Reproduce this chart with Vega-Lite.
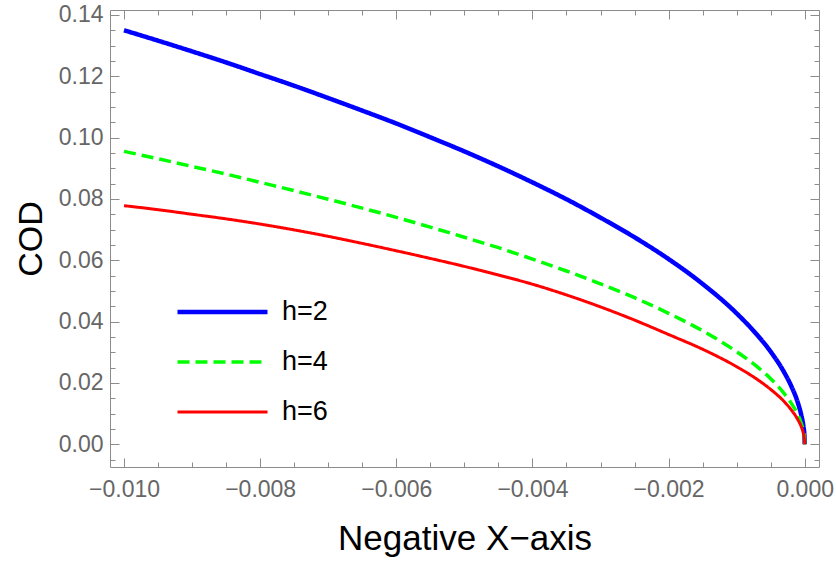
{
  "$schema": "https://vega.github.io/schema/vega-lite/v6.json",
  "width": 709,
  "height": 457,
  "autosize": {"type": "none"},
  "padding": {"left": 110, "top": 10, "right": 17, "bottom": 100},
  "background": "white",
  "config": {
    "view": {"stroke": "#8c8c8c", "strokeWidth": 1},
    "font": "Liberation Sans"
  },
  "data": {
    "values": [
      {"x": -0.01, "cod": 0.1350, "h": "h=2"},
      {"x": -0.0095, "cod": 0.1316, "h": "h=2"},
      {"x": -0.009, "cod": 0.1281, "h": "h=2"},
      {"x": -0.0085, "cod": 0.1245, "h": "h=2"},
      {"x": -0.008, "cod": 0.1207, "h": "h=2"},
      {"x": -0.0075, "cod": 0.1169, "h": "h=2"},
      {"x": -0.007, "cod": 0.1129, "h": "h=2"},
      {"x": -0.0065, "cod": 0.1088, "h": "h=2"},
      {"x": -0.006, "cod": 0.1046, "h": "h=2"},
      {"x": -0.0055, "cod": 0.1001, "h": "h=2"},
      {"x": -0.005, "cod": 0.0955, "h": "h=2"},
      {"x": -0.0045, "cod": 0.0906, "h": "h=2"},
      {"x": -0.004, "cod": 0.0854, "h": "h=2"},
      {"x": -0.0035, "cod": 0.0799, "h": "h=2"},
      {"x": -0.003, "cod": 0.0739, "h": "h=2"},
      {"x": -0.0025, "cod": 0.0675, "h": "h=2"},
      {"x": -0.002, "cod": 0.0604, "h": "h=2"},
      {"x": -0.0015, "cod": 0.0523, "h": "h=2"},
      {"x": -0.001, "cod": 0.0427, "h": "h=2"},
      {"x": -0.0007, "cod": 0.0357, "h": "h=2"},
      {"x": -0.0005, "cod": 0.0302, "h": "h=2"},
      {"x": -0.0003, "cod": 0.0234, "h": "h=2"},
      {"x": -0.0002, "cod": 0.0191, "h": "h=2"},
      {"x": -0.0001, "cod": 0.0135, "h": "h=2"},
      {"x": -0.00005, "cod": 0.0095, "h": "h=2"},
      {"x": -0.00002, "cod": 0.0060, "h": "h=2"},
      {"x": -0.000005, "cod": 0.0030, "h": "h=2"},
      {"x": 0, "cod": 0, "h": "h=2"},
      {"x": -0.01, "cod": 0.0955, "h": "h=4"},
      {"x": -0.0095, "cod": 0.0931, "h": "h=4"},
      {"x": -0.009, "cod": 0.0906, "h": "h=4"},
      {"x": -0.0085, "cod": 0.0881, "h": "h=4"},
      {"x": -0.008, "cod": 0.0854, "h": "h=4"},
      {"x": -0.0075, "cod": 0.0827, "h": "h=4"},
      {"x": -0.007, "cod": 0.0799, "h": "h=4"},
      {"x": -0.0065, "cod": 0.0770, "h": "h=4"},
      {"x": -0.006, "cod": 0.0740, "h": "h=4"},
      {"x": -0.0055, "cod": 0.0708, "h": "h=4"},
      {"x": -0.005, "cod": 0.0675, "h": "h=4"},
      {"x": -0.0045, "cod": 0.0641, "h": "h=4"},
      {"x": -0.004, "cod": 0.0604, "h": "h=4"},
      {"x": -0.0035, "cod": 0.0565, "h": "h=4"},
      {"x": -0.003, "cod": 0.0523, "h": "h=4"},
      {"x": -0.0025, "cod": 0.0478, "h": "h=4"},
      {"x": -0.002, "cod": 0.0427, "h": "h=4"},
      {"x": -0.0015, "cod": 0.0370, "h": "h=4"},
      {"x": -0.001, "cod": 0.0302, "h": "h=4"},
      {"x": -0.0007, "cod": 0.0253, "h": "h=4"},
      {"x": -0.0005, "cod": 0.0214, "h": "h=4"},
      {"x": -0.0003, "cod": 0.0165, "h": "h=4"},
      {"x": -0.0002, "cod": 0.0135, "h": "h=4"},
      {"x": -0.0001, "cod": 0.0096, "h": "h=4"},
      {"x": -0.00005, "cod": 0.0068, "h": "h=4"},
      {"x": -0.00002, "cod": 0.0043, "h": "h=4"},
      {"x": -0.000005, "cod": 0.0021, "h": "h=4"},
      {"x": 0, "cod": 0, "h": "h=4"},
      {"x": -0.01, "cod": 0.0778, "h": "h=6"},
      {"x": -0.0095, "cod": 0.0765, "h": "h=6"},
      {"x": -0.009, "cod": 0.0750, "h": "h=6"},
      {"x": -0.0085, "cod": 0.0735, "h": "h=6"},
      {"x": -0.008, "cod": 0.0718, "h": "h=6"},
      {"x": -0.0075, "cod": 0.0699, "h": "h=6"},
      {"x": -0.007, "cod": 0.0678, "h": "h=6"},
      {"x": -0.0065, "cod": 0.0655, "h": "h=6"},
      {"x": -0.006, "cod": 0.0631, "h": "h=6"},
      {"x": -0.0055, "cod": 0.0606, "h": "h=6"},
      {"x": -0.005, "cod": 0.0580, "h": "h=6"},
      {"x": -0.0045, "cod": 0.0552, "h": "h=6"},
      {"x": -0.004, "cod": 0.0522, "h": "h=6"},
      {"x": -0.0035, "cod": 0.0487, "h": "h=6"},
      {"x": -0.003, "cod": 0.0448, "h": "h=6"},
      {"x": -0.0025, "cod": 0.0405, "h": "h=6"},
      {"x": -0.002, "cod": 0.0358, "h": "h=6"},
      {"x": -0.0015, "cod": 0.0310, "h": "h=6"},
      {"x": -0.001, "cod": 0.0253, "h": "h=6"},
      {"x": -0.0007, "cod": 0.0212, "h": "h=6"},
      {"x": -0.0005, "cod": 0.0179, "h": "h=6"},
      {"x": -0.0003, "cod": 0.0139, "h": "h=6"},
      {"x": -0.0002, "cod": 0.0113, "h": "h=6"},
      {"x": -0.0001, "cod": 0.0080, "h": "h=6"},
      {"x": -0.00005, "cod": 0.0057, "h": "h=6"},
      {"x": -0.00002, "cod": 0.0036, "h": "h=6"},
      {"x": -0.000005, "cod": 0.0018, "h": "h=6"},
      {"x": 0, "cod": 0, "h": "h=6"}
    ]
  },
  "layer": [
    {
      "mark": {"type": "line", "interpolate": "monotone", "clip": true},
      "encoding": {
        "x": {
          "field": "x", "type": "quantitative",
          "scale": {"domain": [-0.010206, 0.00021], "nice": false, "zero": false},
          "axis": {
            "orient": "bottom",
            "values": [-0.01, -0.0095, -0.009, -0.0085, -0.008, -0.0075, -0.007, -0.0065, -0.006, -0.0055, -0.005, -0.0045, -0.004, -0.0035, -0.003, -0.0025, -0.002, -0.0015, -0.001, -0.0005, 0],
            "domain": false, "grid": false,
            "tickColor": "#8c8c8c",
            "tickSize": {"condition": {"test": "abs(round(datum.value*10000)%20)==0", "value": -9}, "value": -5},
            "labelExpr": "abs(round(datum.value*10000)%20)==0 ? format(datum.value,'.3f') : ''",
            "labelFontSize": 23, "labelColor": "#666666", "labelPadding": 20,
            "labelOverlap": false, "labelBound": false, "labelFlush": false,
            "title": "Negative X−axis", "titleFontSize": 35, "titleColor": "black",
            "titleFontWeight": "normal", "titlePadding": 16
          }
        },
        "y": {
          "field": "cod", "type": "quantitative",
          "scale": {"domain": [-0.0074, 0.1416], "nice": false, "zero": false},
          "axis": {
            "orient": "left",
            "values": [-0.005, 0, 0.005, 0.01, 0.015, 0.02, 0.025, 0.03, 0.035, 0.04, 0.045, 0.05, 0.055, 0.06, 0.065, 0.07, 0.075, 0.08, 0.085, 0.09, 0.095, 0.1, 0.105, 0.11, 0.115, 0.12, 0.125, 0.13, 0.135, 0.14],
            "domain": false, "grid": false,
            "tickColor": "#8c8c8c",
            "tickSize": {"condition": {"test": "abs(round(datum.value*1000)%20)==0", "value": -9}, "value": -5},
            "labelExpr": "abs(round(datum.value*1000)%20)==0 ? format(datum.value,'.2f') : ''",
            "labelFontSize": 23, "labelColor": "#666666", "labelPadding": 16,
            "labelOverlap": false, "labelBound": false, "labelFlush": false,
            "title": "COD", "titleFontSize": 34, "titleColor": "black",
            "titleFontWeight": "normal", "titlePadding": 10
          }
        },
        "color": {
          "field": "h", "type": "nominal",
          "scale": {"domain": ["h=2", "h=4", "h=6"], "range": ["#0000ff", "#00ff00", "#ff0000"]},
          "legend": {
            "title": null, "orient": "none", "legendX": 65, "legendY": 278,
            "symbolType": "stroke", "symbolSize": 8100, "symbolStrokeWidth": 4,
            "clipHeight": 48,
            "labelFontSize": 27, "labelColor": "black", "labelOffset": 12,
            "rowPadding": 2, "padding": 0
          }
        },
        "strokeDash": {
          "field": "h", "type": "nominal",
          "scale": {"domain": ["h=2", "h=4", "h=6"], "range": [[1, 0], [12, 6], [1, 0]]}
        },
        "strokeWidth": {
          "field": "h", "type": "nominal",
          "scale": {"type": "ordinal", "domain": ["h=2", "h=4", "h=6"], "range": [4.5, 3.5, 3]}
        }
      }
    },
    {
      "mark": {"type": "line", "opacity": 0},
      "encoding": {
        "x": {
          "field": "x", "type": "quantitative",
          "scale": {"domain": [-0.010206, 0.00021], "nice": false, "zero": false},
          "axis": {
            "orient": "top",
            "values": [-0.01, -0.0095, -0.009, -0.0085, -0.008, -0.0075, -0.007, -0.0065, -0.006, -0.0055, -0.005, -0.0045, -0.004, -0.0035, -0.003, -0.0025, -0.002, -0.0015, -0.001, -0.0005, 0],
            "domain": false, "grid": false, "labels": false, "title": null,
            "tickColor": "#8c8c8c",
            "tickSize": {"condition": {"test": "abs(round(datum.value*10000)%20)==0", "value": -9}, "value": -5}
          }
        },
        "y": {
          "field": "cod", "type": "quantitative",
          "scale": {"domain": [-0.0074, 0.1416], "nice": false, "zero": false},
          "axis": {
            "orient": "right",
            "values": [-0.005, 0, 0.005, 0.01, 0.015, 0.02, 0.025, 0.03, 0.035, 0.04, 0.045, 0.05, 0.055, 0.06, 0.065, 0.07, 0.075, 0.08, 0.085, 0.09, 0.095, 0.1, 0.105, 0.11, 0.115, 0.12, 0.125, 0.13, 0.135, 0.14],
            "domain": false, "grid": false, "labels": false, "title": null,
            "tickColor": "#8c8c8c",
            "tickSize": {"condition": {"test": "abs(round(datum.value*1000)%20)==0", "value": -9}, "value": -5}
          }
        }
      }
    }
  ],
  "resolve": {"axis": {"x": "independent", "y": "independent"}}
}
